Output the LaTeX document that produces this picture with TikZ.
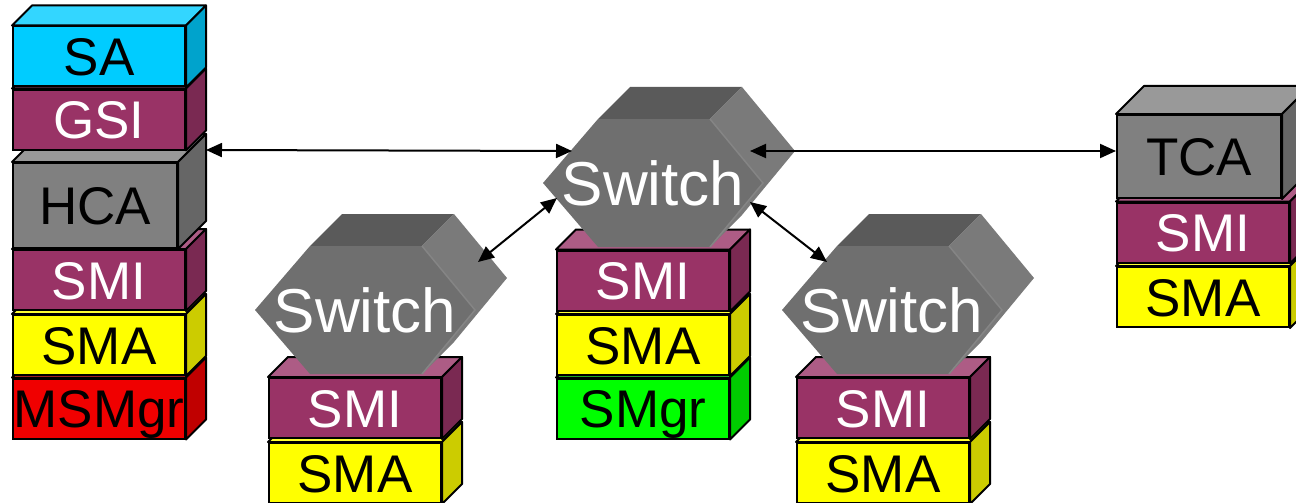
\documentclass[tikz,border=0pt]{standalone}
\usepackage{fontspec}
\setmainfont{Liberation Sans}
\usetikzlibrary{arrows.meta}

\definecolor{saBlue}{HTML}{00CCFF}
\definecolor{smiPlum}{HTML}{993366}
\definecolor{caGray}{HTML}{808080}
\definecolor{smaYellow}{HTML}{FFFF00}
\definecolor{mgrRed}{HTML}{F00000}
\definecolor{mgrGreen}{HTML}{00FF00}
\definecolor{swTop}{HTML}{5A5A5A}
\definecolor{swFront}{HTML}{6F6F6F}
\definecolor{swSide}{HTML}{7A7A7A}
\definecolor{swEdge}{HTML}{858585}

\tikzset{
  layer/.style={draw=black, line width=2pt, inner sep=0pt,
    minimum width=172pt, minimum height=60pt,
    text height=38pt, text depth=0pt, font=\fontsize{53}{60}\selectfont},
  face/.style={draw=black, line width=2pt, line join=round},
  swlabel/.style={text=white, inner sep=0pt, text height=45pt, text depth=0pt,
    font=\fontsize{62}{68}\selectfont},
  link/.style={{Triangle[length=16pt,width=14pt]}-{Triangle[length=16pt,width=14pt]},
    line width=2pt},
}

% {name}{position}{colour}{depth}{options}{text}
\newcommand{\layerbox}[6]{%
  \node[layer, fill=#3, #5] (#1) at (#2) {#6};
  \filldraw[face, fill=#3!80!white] (#1.north west) -- ++(#4,-#4)
    -- ([shift={(#4,-#4)}]#1.north east) -- (#1.north east) -- cycle;
  \filldraw[face, fill=#3!80!black] (#1.north east) -- ++(#4,-#4)
    -- ([shift={(#4,-#4)}]#1.south east) -- (#1.south east) -- cycle;
}

% {name}{position}
\newcommand{\swbox}[2]{%
  \begin{scope}[shift={(#2)}]
    \fill[swTop] (-55,-64) -- (57,-64) -- (89,-96) -- (-23,-96) -- cycle;
    \fill[swSide] (57,-64) -- (89,-96) -- (142,-32) -- (89,32) -- (57,64) -- (110,0) -- cycle;
    \fill[swFront] (-55,-64) -- (57,-64) -- (110,0) -- (57,64) -- (-55,64) -- (-110,0) -- cycle;
    \draw[swEdge, line width=1.5pt] (57,-64) -- (110,0) -- (57,64);
  \end{scope}
  \node[swlabel] (#1) at (#2) {Switch};
}

\begin{document}
\begin{tikzpicture}[x=1pt, y=-1pt]
\useasboundingbox (0,0) rectangle (1296,503);

% host side
\layerbox{msmgr}{99,408.5}{mgrRed}{20}{}{MSMgr}
\layerbox{sma}{99,345}{smaYellow}{20}{}{SMA}
\layerbox{smi}{99,280}{smiPlum}{20}{text=white}{SMI}
\layerbox{hca}{95,205.5}{caGray}{28}{minimum width=164pt, minimum height=85pt}{HCA}
\layerbox{gsi}{99,119.5}{smiPlum}{20}{text=white}{GSI}
\layerbox{sa}{99,56.5}{saBlue}{20}{}{SA}

% central switch
\layerbox{smgr}{643,408.5}{mgrGreen}{20}{}{SMgr}
\layerbox{smac}{643,345}{smaYellow}{20}{}{SMA}
\layerbox{smic}{643,280.5}{smiPlum}{20}{text=white}{SMI}
\swbox{sw}{653,183}

% leaf switches
\layerbox{smal}{355,473}{smaYellow}{20}{}{SMA}
\layerbox{smil}{355,408}{smiPlum}{20}{text=white}{SMI}
\swbox{swl}{365,310}

\layerbox{smar}{883,473}{smaYellow}{20}{}{SMA}
\layerbox{smir}{883,408}{smiPlum}{20}{text=white}{SMI}
\swbox{swr}{892,310}

% target side
\layerbox{smat}{1203,297}{smaYellow}{20}{}{SMA}
\layerbox{smit}{1203,232.5}{smiPlum}{20}{text=white}{SMI}
\layerbox{tca}{1199,156.5}{caGray}{28}{minimum width=164pt, minimum height=83pt}{TCA}

% links
\draw[link] ([shift={(28,-12)}]hca.north east) -- ([shift={(-81,-32)}]sw.center);
\draw[link] ([shift={(97,-32)}]sw.center) -- ([yshift=5.5pt]tca.west);
\draw[link] ([shift={(-96,15)}]sw.center) -- ([shift={(113,-48)}]swl.center);
\draw[link] ([shift={(97,19)}]sw.center) -- ([shift={(-65,-48)}]swr.center);
\end{tikzpicture}
\end{document}
